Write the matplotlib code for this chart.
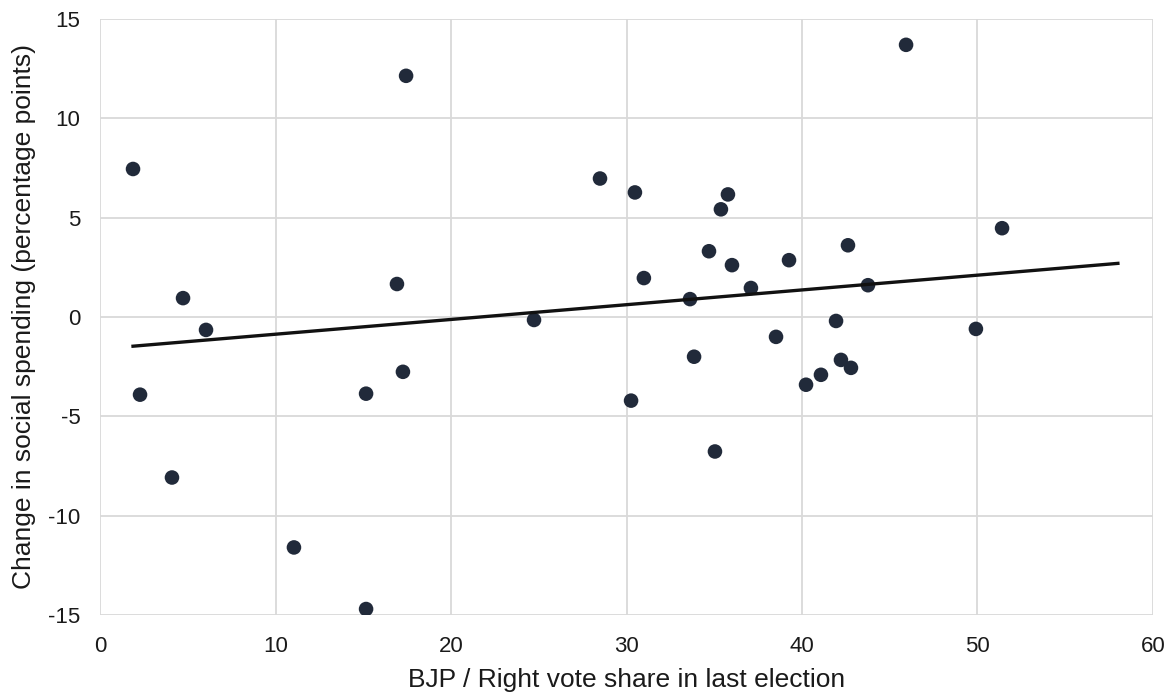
#!/usr/bin/env python3

import numpy as np
import matplotlib.pyplot as plt

plt.rcParams['font.family'] = ['Liberation Sans', 'DejaVu Sans']
plt.rcParams['axes.unicode_minus'] = False

# BJP / Right vote share (x) vs change in social spending (y)
vote_share = [1.88, 2.28, 4.10, 4.73, 6.04, 11.05, 15.16, 15.16, 16.92, 17.26,
              17.44, 24.73, 28.49, 30.26, 30.48, 30.99, 33.62, 33.85, 34.70,
              35.04, 35.38, 35.78, 36.01, 37.09, 38.52, 39.26, 40.23, 41.08,
              41.94, 42.22, 42.62, 42.79, 43.76, 45.93, 49.91, 51.40]
spending_change = [7.45, -3.91, -8.08, 0.95, -0.65, -11.6, -3.86, -14.7, 1.66,
                   -2.76, 12.14, -0.15, 6.97, -4.21, 6.27, 1.96, 0.9, -2.0,
                   3.31, -6.77, 5.42, 6.17, 2.61, 1.46, -1.0, 2.86, -3.41,
                   -2.91, -0.2, -2.16, 3.61, -2.56, 1.6, 13.7, -0.6, 4.47]

# 추세선
trend_slope = 0.0743
trend_intercept = -1.61
trend_end = 58

x_ticks = [0, 10, 20, 30, 40, 50, 60]
y_ticks = [-15, -10, -5, 0, 5, 10, 15]


def main():
    fig = plt.figure(figsize=(11.74, 6.96), dpi=100)
    ax = fig.add_axes([0.0852, 0.1164, 0.8969, 0.8563])

    ax.scatter(vote_share, spending_change, s=110, color='#212a3a',
               edgecolors='none', zorder=3)

    tx = np.array([min(vote_share), trend_end])
    ax.plot(tx, trend_slope * tx + trend_intercept, color='#111111',
            linewidth=2.4, zorder=4)

    ax.set_xlim(x_ticks[0], x_ticks[-1])
    ax.set_ylim(y_ticks[0], y_ticks[-1])
    ax.set_xticks(x_ticks)
    ax.set_yticks(y_ticks)
    ax.grid(True, color='#d9d9d9', linewidth=1.3)
    ax.set_axisbelow(True)
    for s in ax.spines.values():
        s.set_visible(False)
    ax.tick_params(length=0, labelsize=16, colors='#1a1a1a')
    ax.tick_params(axis='x', pad=15)
    ax.tick_params(axis='y', pad=14)

    ax.set_xlabel('BJP / Right vote share in last election', fontsize=19,
                  color='#1a1a1a', labelpad=8)
    ax.set_ylabel('Change in social spending (percentage points)', fontsize=19,
                  color='#1a1a1a', labelpad=9)

    fig.savefig('out.png', dpi=100)
    plt.close(fig)


if __name__ == '__main__':
    main()
